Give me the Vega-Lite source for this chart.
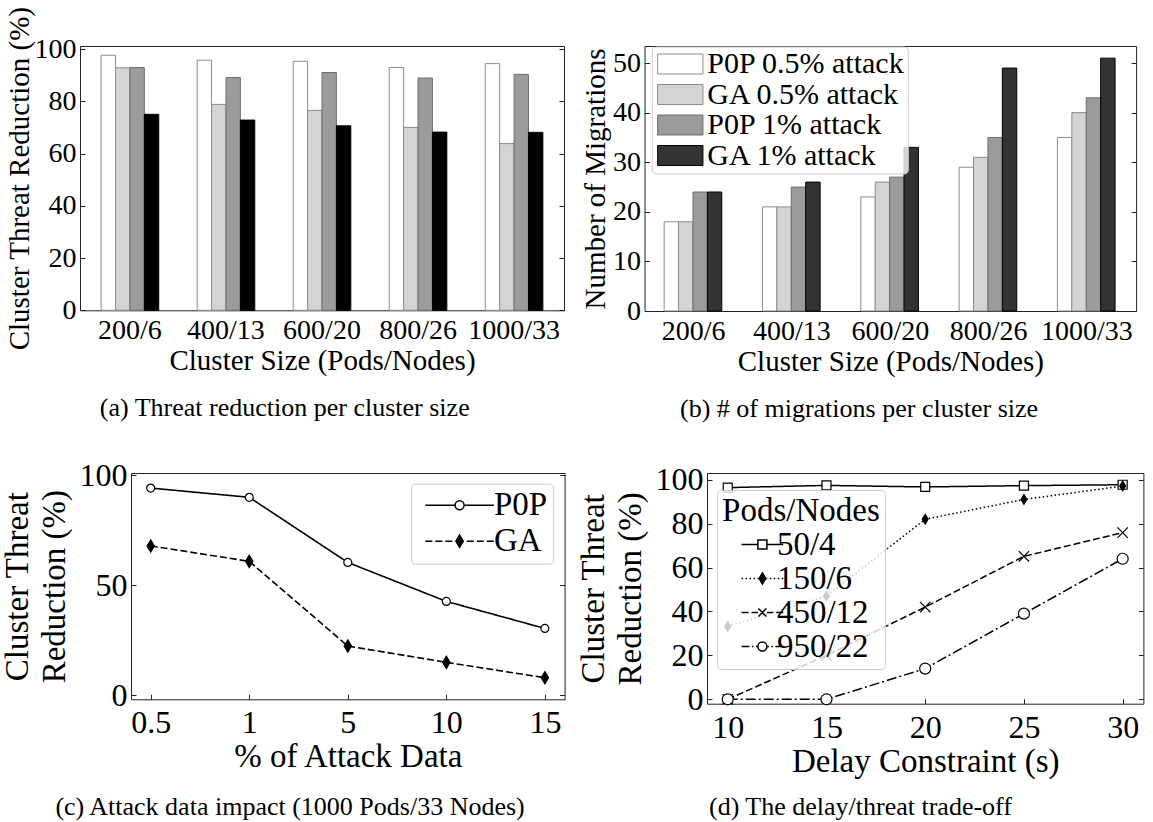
{
  "$schema": "https://vega.github.io/schema/vega-lite/v6.json",
  "background": "white",
  "padding": {"left": 0, "top": 5, "right": 0, "bottom": 0},
  "config": {
    "font": "Liberation Serif",
    "view": {"stroke": "#222222", "strokeWidth": 1},
    "axis": {
      "labelFont": "Liberation Serif", "titleFont": "Liberation Serif",
      "labelColor": "black", "titleColor": "black", "titleFontWeight": "normal",
      "grid": false, "domain": false, "tickColor": "#222222", "tickSize": -5, "tickWidth": 1
    },
    "legend": {
      "labelFont": "Liberation Serif", "titleFont": "Liberation Serif",
      "labelColor": "black", "titleColor": "black", "titleFontWeight": "normal", "labelLimit": 500
    },
    "title": {"font": "Liberation Serif", "fontWeight": "normal", "color": "black", "fontSize": 26}
  },
  "datasets": {
    "threat_by_size": [
      {"size": "200/6", "method": "P0P 0.5% attack", "reduction": 97.6},
      {"size": "200/6", "method": "GA 0.5% attack", "reduction": 92.8},
      {"size": "200/6", "method": "P0P 1% attack", "reduction": 92.9},
      {"size": "200/6", "method": "GA 1% attack", "reduction": 75.0},
      {"size": "400/13", "method": "P0P 0.5% attack", "reduction": 95.7},
      {"size": "400/13", "method": "GA 0.5% attack", "reduction": 78.8},
      {"size": "400/13", "method": "P0P 1% attack", "reduction": 89.1},
      {"size": "400/13", "method": "GA 1% attack", "reduction": 72.8},
      {"size": "600/20", "method": "P0P 0.5% attack", "reduction": 95.3},
      {"size": "600/20", "method": "GA 0.5% attack", "reduction": 76.5},
      {"size": "600/20", "method": "P0P 1% attack", "reduction": 91.0},
      {"size": "600/20", "method": "GA 1% attack", "reduction": 70.6},
      {"size": "800/26", "method": "P0P 0.5% attack", "reduction": 92.9},
      {"size": "800/26", "method": "GA 0.5% attack", "reduction": 70.0},
      {"size": "800/26", "method": "P0P 1% attack", "reduction": 88.9},
      {"size": "800/26", "method": "GA 1% attack", "reduction": 68.2},
      {"size": "1000/33", "method": "P0P 0.5% attack", "reduction": 94.4},
      {"size": "1000/33", "method": "GA 0.5% attack", "reduction": 63.8},
      {"size": "1000/33", "method": "P0P 1% attack", "reduction": 90.3},
      {"size": "1000/33", "method": "GA 1% attack", "reduction": 68.1}
    ],
    "migrations_by_size": [
      {"size": "200/6", "variant": "P0P 0.5% attack", "migrations": 18},
      {"size": "200/6", "variant": "GA 0.5% attack", "migrations": 18},
      {"size": "200/6", "variant": "P0P 1% attack", "migrations": 24},
      {"size": "200/6", "variant": "GA 1% attack", "migrations": 24},
      {"size": "400/13", "variant": "P0P 0.5% attack", "migrations": 21},
      {"size": "400/13", "variant": "GA 0.5% attack", "migrations": 21},
      {"size": "400/13", "variant": "P0P 1% attack", "migrations": 25},
      {"size": "400/13", "variant": "GA 1% attack", "migrations": 26},
      {"size": "600/20", "variant": "P0P 0.5% attack", "migrations": 23},
      {"size": "600/20", "variant": "GA 0.5% attack", "migrations": 26},
      {"size": "600/20", "variant": "P0P 1% attack", "migrations": 27},
      {"size": "600/20", "variant": "GA 1% attack", "migrations": 33},
      {"size": "800/26", "variant": "P0P 0.5% attack", "migrations": 29},
      {"size": "800/26", "variant": "GA 0.5% attack", "migrations": 31},
      {"size": "800/26", "variant": "P0P 1% attack", "migrations": 35},
      {"size": "800/26", "variant": "GA 1% attack", "migrations": 49},
      {"size": "1000/33", "variant": "P0P 0.5% attack", "migrations": 35},
      {"size": "1000/33", "variant": "GA 0.5% attack", "migrations": 40},
      {"size": "1000/33", "variant": "P0P 1% attack", "migrations": 43},
      {"size": "1000/33", "variant": "GA 1% attack", "migrations": 51}
    ],
    "attack_impact": [
      {"attack": 0.5, "algorithm": "P0P", "reduction": 94.2},
      {"attack": 1, "algorithm": "P0P", "reduction": 90.0},
      {"attack": 5, "algorithm": "P0P", "reduction": 60.4},
      {"attack": 10, "algorithm": "P0P", "reduction": 42.7},
      {"attack": 15, "algorithm": "P0P", "reduction": 30.4},
      {"attack": 0.5, "algorithm": "GA", "reduction": 67.9},
      {"attack": 1, "algorithm": "GA", "reduction": 60.9},
      {"attack": 5, "algorithm": "GA", "reduction": 22.4},
      {"attack": 10, "algorithm": "GA", "reduction": 15.0},
      {"attack": 15, "algorithm": "GA", "reduction": 8.0}
    ],
    "delay_tradeoff": [
      {"delay": 10, "cluster": "50/4", "reduction": 96.4},
      {"delay": 15, "cluster": "50/4", "reduction": 97.4},
      {"delay": 20, "cluster": "50/4", "reduction": 96.7},
      {"delay": 25, "cluster": "50/4", "reduction": 97.3},
      {"delay": 30, "cluster": "50/4", "reduction": 97.7},
      {"delay": 10, "cluster": "150/6", "reduction": 33.2},
      {"delay": 15, "cluster": "150/6", "reduction": 47.0},
      {"delay": 20, "cluster": "150/6", "reduction": 82.0},
      {"delay": 25, "cluster": "150/6", "reduction": 91.0},
      {"delay": 30, "cluster": "150/6", "reduction": 97.1},
      {"delay": 10, "cluster": "450/12", "reduction": 0},
      {"delay": 15, "cluster": "450/12", "reduction": 20},
      {"delay": 20, "cluster": "450/12", "reduction": 42},
      {"delay": 25, "cluster": "450/12", "reduction": 65.1},
      {"delay": 30, "cluster": "450/12", "reduction": 75.9},
      {"delay": 10, "cluster": "950/22", "reduction": 0},
      {"delay": 15, "cluster": "950/22", "reduction": 0},
      {"delay": 20, "cluster": "950/22", "reduction": 14},
      {"delay": 25, "cluster": "950/22", "reduction": 39},
      {"delay": 30, "cluster": "950/22", "reduction": 64}
    ]
  },
  "resolve": {
    "scale": {"x": "independent", "y": "independent", "fill": "independent", "stroke": "independent", "shape": "independent", "strokeDash": "independent", "size": "independent"},
    "legend": {"fill": "independent", "stroke": "independent", "shape": "independent", "strokeDash": "independent", "size": "independent"}
  },
  "spacing": 35,
  "vconcat": [
    {
      "bounds": "flush",
      "spacing": 80.5,
      "resolve": {
        "scale": {"x": "independent", "y": "independent", "fill": "independent", "stroke": "independent"},
        "legend": {"fill": "independent", "stroke": "independent"}
      },
      "hconcat": [
        {
          "width": 484,
          "height": 264.3,
          "data": {"name": "threat_by_size"},
          "title": {"text": "(a) Threat reduction per cluster size", "orient": "bottom", "frame": "bounds", "anchor": "middle", "offset": 20},
          "resolve": {"axis": {"y": "independent"}},
          "layer": [
            {
              "mark": {"type": "bar", "strokeWidth": 1},
              "encoding": {
                "x": {
                  "field": "size", "type": "nominal",
                  "sort": ["200/6", "400/13", "600/20", "800/26", "1000/33"],
                  "scale": {"paddingInner": 0.4, "paddingOuter": 0.22},
                  "axis": {"title": "Cluster Size (Pods/Nodes)", "labelAngle": 0, "labelFontSize": 28, "titleFontSize": 29, "labelPadding": 11, "titlePadding": 2}
                },
                "xOffset": {
                  "field": "method", "type": "nominal",
                  "scale": {"domain": ["P0P 0.5% attack", "GA 0.5% attack", "P0P 1% attack", "GA 1% attack"], "paddingInner": 0, "paddingOuter": 0}
                },
                "y": {
                  "field": "reduction", "type": "quantitative",
                  "scale": {"domain": [0, 101.15], "nice": false, "zero": true},
                  "axis": {"values": [0, 20, 40, 60, 80, 100], "title": "Cluster Threat Reduction (%)", "labelFontSize": 28, "titleFontSize": 29, "labelPadding": 9, "titlePadding": 0}
                },
                "fill": {
                  "field": "method", "type": "nominal",
                  "scale": {"domain": ["P0P 0.5% attack", "GA 0.5% attack", "P0P 1% attack", "GA 1% attack"], "range": ["#ffffff", "#d4d4d4", "#9b9b9b", "#000000"]},
                  "legend": null
                },
                "stroke": {
                  "field": "method", "type": "nominal",
                  "scale": {"domain": ["P0P 0.5% attack", "GA 0.5% attack", "P0P 1% attack", "GA 1% attack"], "range": ["#8c8c8c", "#8c8c8c", "#6e6e6e", "#000000"]},
                  "legend": null
                }
              }
            },
            {
              "data": {"values": []},
              "mark": {"type": "rule"},
              "encoding": {
                "y": {"field": "reduction", "type": "quantitative", "axis": {"orient": "right", "values": [0, 20, 40, 60, 80, 100], "labels": false, "title": null}}
              }
            }
          ]
        },
        {
          "width": 491.6,
          "height": 265,
          "data": {"name": "migrations_by_size"},
          "title": {"text": "(b) # of migrations per cluster size", "orient": "bottom", "frame": "bounds", "anchor": "middle", "offset": 20},
          "resolve": {"axis": {"y": "independent"}},
          "layer": [
            {
              "mark": {"type": "bar", "strokeWidth": 1},
              "encoding": {
                "x": {
                  "field": "size", "type": "nominal",
                  "sort": ["200/6", "400/13", "600/20", "800/26", "1000/33"],
                  "scale": {"paddingInner": 0.4, "paddingOuter": 0.2},
                  "axis": {"title": "Cluster Size (Pods/Nodes)", "labelAngle": 0, "labelFontSize": 28, "titleFontSize": 29, "labelPadding": 11, "titlePadding": 2}
                },
                "xOffset": {
                  "field": "variant", "type": "nominal",
                  "scale": {"domain": ["P0P 0.5% attack", "GA 0.5% attack", "P0P 1% attack", "GA 1% attack"], "paddingInner": 0, "paddingOuter": 0}
                },
                "y": {
                  "field": "migrations", "type": "quantitative",
                  "scale": {"domain": [0, 53.45], "nice": false},
                  "axis": {"values": [0, 10, 20, 30, 40, 50], "title": "Number of Migrations", "labelFontSize": 28, "titleFontSize": 29, "labelPadding": 9, "titlePadding": 2}
                },
                "fill": {
                  "field": "variant", "type": "nominal",
                  "scale": {"domain": ["P0P 0.5% attack", "GA 0.5% attack", "P0P 1% attack", "GA 1% attack"], "range": ["#ffffff", "#d4d4d4", "#9b9b9b", "#333333"]},
                  "legend": {
                    "orient": "none", "legendX": 7.3, "legendY": 0.5, "title": null,
                    "symbolType": "M-4.53,-2H4.53V2H-4.53Z", "symbolSize": 100, "symbolStrokeWidth": 1,
                    "symbolOffset": 11, "labelOffset": 12, "labelFontSize": 30, "rowPadding": 0.5,
                    "padding": 2.5, "fillColor": "rgba(255,255,255,0.8)", "strokeColor": "#cccccc", "cornerRadius": 4
                  }
                },
                "stroke": {
                  "field": "variant", "type": "nominal",
                  "scale": {"domain": ["P0P 0.5% attack", "GA 0.5% attack", "P0P 1% attack", "GA 1% attack"], "range": ["#8c8c8c", "#8c8c8c", "#6e6e6e", "#000000"]},
                  "legend": {
                    "orient": "none", "legendX": 7.3, "legendY": 0.5, "title": null,
                    "symbolType": "M-4.53,-2H4.53V2H-4.53Z", "symbolSize": 100, "symbolStrokeWidth": 1,
                    "symbolOffset": 11, "labelOffset": 12, "labelFontSize": 30, "rowPadding": 0.5,
                    "padding": 2.5, "fillColor": "rgba(255,255,255,0.8)", "strokeColor": "#cccccc", "cornerRadius": 4
                  }
                }
              }
            },
            {
              "data": {"values": []},
              "mark": {"type": "rule"},
              "encoding": {
                "y": {"field": "migrations", "type": "quantitative", "axis": {"orient": "right", "values": [0, 10, 20, 30, 40, 50], "labels": false, "title": null}}
              }
            }
          ]
        }
      ]
    },
    {
      "bounds": "flush",
      "spacing": 25,
      "resolve": {
        "scale": {"x": "independent", "y": "independent", "shape": "independent", "strokeDash": "independent", "fill": "independent", "size": "independent"},
        "legend": {"shape": "independent", "fill": "independent", "strokeDash": "independent", "size": "independent"}
      },
      "hconcat": [
        {
          "width": 25.3,
          "height": 10,
          "data": {"values": []},
          "mark": "point",
          "view": {"stroke": null}
        },
        {
          "width": 433.6,
          "height": 226.3,
          "data": {"name": "attack_impact"},
          "title": {"text": "(c) Attack data impact (1000 Pods/33 Nodes)", "orient": "bottom", "frame": "bounds", "anchor": "middle", "offset": 20},
          "resolve": {
            "scale": {"shape": "independent", "fill": "independent", "size": "independent"},
            "legend": {"shape": "independent", "fill": "independent", "size": "independent"},
            "axis": {"y": "independent"}
          },
          "layer": [
            {
              "mark": {"type": "line", "color": "black", "strokeWidth": 1.6},
              "encoding": {
                "x": {
                  "field": "attack", "type": "ordinal",
                  "scale": {"type": "point", "padding": 0.2},
                  "axis": {"title": "% of Attack Data", "labelAngle": 0, "labelFontSize": 32, "titleFontSize": 33, "labelPadding": 13.5, "titlePadding": 2}
                },
                "y": {
                  "field": "reduction", "type": "quantitative",
                  "scale": {"domain": [-1.8, 101.05], "nice": false, "zero": false},
                  "axis": {"values": [0, 50, 100], "title": ["Cluster Threat", "Reduction (%)"], "titleLineHeight": 37, "labelFontSize": 32, "titleFontSize": 33, "labelPadding": 9, "titlePadding": 8}
                },
                "strokeDash": {
                  "field": "algorithm", "type": "nominal",
                  "scale": {"domain": ["P0P", "GA"], "range": [[1, 0], [7, 3]]},
                  "legend": null
                }
              }
            },
            {
              "mark": {"type": "point", "filled": true, "stroke": "black", "strokeWidth": 1.2, "opacity": 1},
              "encoding": {
                "x": {"field": "attack", "type": "ordinal"},
                "y": {"field": "reduction", "type": "quantitative", "axis": null},
                "shape": {"field": "algorithm", "type": "nominal", "scale": {"domain": ["P0P", "GA"], "range": ["circle", "M0,-1L0.6,0L0,1L-0.6,0Z"]}, "legend": null},
                "fill": {"field": "algorithm", "type": "nominal", "scale": {"domain": ["P0P", "GA"], "range": ["#ffffff", "#000000"]}, "legend": null},
                "size": {"field": "algorithm", "type": "nominal", "scale": {"domain": ["P0P", "GA"], "range": [64, 151]}, "legend": null}
              }
            },
            {
              "mark": {"type": "point", "filled": true, "stroke": "black", "strokeWidth": 1.5, "opacity": 0, "size": 100},
              "encoding": {
                "x": {"field": "attack", "type": "ordinal"},
                "y": {"field": "reduction", "type": "quantitative", "axis": null},
                "shape": {
                  "field": "algorithm", "type": "nominal",
                  "scale": {"domain": ["P0P", "GA"], "range": [
                    "M-6.85,0H-0.9M0.9,0H6.85M0.9,0A0.9,0.9,0,1,1,-0.9,0A0.9,0.9,0,1,1,0.9,0Z",
                    "M-6.85,0H-5.45M-4.85,0H-3.45M-2.85,0H-1.45M1.45,0H2.85M3.45,0H4.85M5.45,0H6.85M0,-1.23L0.74,0L0,1.23L-0.74,0Z"
                  ]},
                  "legend": {
                    "orient": "none", "legendX": 280.1, "legendY": 10.7, "title": null,
                    "symbolSize": 100, "symbolStrokeWidth": 1.5, "symbolStrokeColor": "black", "symbolOpacity": 1,
                    "symbolOffset": 27, "labelOffset": 17.8, "labelFontSize": 33, "rowPadding": 2,
                    "padding": 5, "fillColor": "rgba(255,255,255,0.8)", "strokeColor": "#cccccc", "cornerRadius": 4,
                    "encode": {"symbols": {"update": {"opacity": {"value": 1}, "stroke": {"value": "black"}}}}
                  }
                },
                "fill": {
                  "field": "algorithm", "type": "nominal",
                  "scale": {"domain": ["P0P", "GA"], "range": ["#ffffff", "#000000"]},
                  "legend": {
                    "orient": "none", "legendX": 280.1, "legendY": 10.7, "title": null,
                    "symbolSize": 100, "symbolStrokeWidth": 1.5, "symbolStrokeColor": "black", "symbolOpacity": 1,
                    "symbolOffset": 27, "labelOffset": 17.8, "labelFontSize": 33, "rowPadding": 2,
                    "padding": 5, "fillColor": "rgba(255,255,255,0.8)", "strokeColor": "#cccccc", "cornerRadius": 4,
                    "encode": {"symbols": {"update": {"opacity": {"value": 1}, "stroke": {"value": "black"}}}}
                  }
                }
              }
            },
            {
              "data": {"values": []},
              "mark": {"type": "rule"},
              "encoding": {
                "y": {"field": "reduction", "type": "quantitative", "axis": {"orient": "right", "values": [0, 50, 100], "labels": false, "title": null}}
              }
            }
          ]
        },
        {
          "width": 91.1,
          "height": 10,
          "data": {"values": []},
          "mark": "point",
          "view": {"stroke": null}
        },
        {
          "width": 436.4,
          "height": 230.7,
          "data": {"name": "delay_tradeoff"},
          "title": {"text": "(d) The delay/threat trade-off", "orient": "bottom", "frame": "bounds", "anchor": "middle", "offset": 16},
          "resolve": {
            "scale": {"shape": "independent", "fill": "independent", "size": "independent"},
            "legend": {"shape": "independent", "fill": "independent", "size": "independent"},
            "axis": {"y": "independent"}
          },
          "layer": [
            {
              "mark": {"type": "line", "color": "black", "strokeWidth": 1.5},
              "encoding": {
                "x": {
                  "field": "delay", "type": "quantitative",
                  "scale": {"domain": [8.95, 31.05], "nice": false, "zero": false},
                  "axis": {"values": [10, 15, 20, 25, 30], "title": "Delay Constraint (s)", "labelFontSize": 32, "titleFontSize": 33, "labelPadding": 13.5, "titlePadding": 2}
                },
                "y": {
                  "field": "reduction", "type": "quantitative",
                  "scale": {"domain": [-2.0, 103.05], "nice": false, "zero": false},
                  "axis": {"values": [0, 20, 40, 60, 80, 100], "title": ["Cluster Threat", "Reduction (%)"], "titleLineHeight": 37, "labelFontSize": 32, "titleFontSize": 33, "labelPadding": 9, "titlePadding": 8}
                },
                "strokeDash": {
                  "field": "cluster", "type": "nominal",
                  "scale": {"domain": ["50/4", "150/6", "450/12", "950/22"], "range": [[1, 0], [1.5, 2.5], [7, 3], [10, 3, 2, 3]]},
                  "legend": null
                }
              }
            },
            {
              "mark": {"type": "point", "filled": true, "stroke": "black", "strokeWidth": 1.2, "opacity": 1},
              "encoding": {
                "x": {"field": "delay", "type": "quantitative"},
                "y": {"field": "reduction", "type": "quantitative", "axis": null},
                "shape": {"field": "cluster", "type": "nominal", "scale": {"domain": ["50/4", "150/6", "450/12", "950/22"], "range": ["square", "M0,-1L0.6,0L0,1L-0.6,0Z", "M-1,-1L1,1M-1,1L1,-1", "circle"]}, "legend": null},
                "fill": {"field": "cluster", "type": "nominal", "scale": {"domain": ["50/4", "150/6", "450/12", "950/22"], "range": ["#ffffff", "#000000", "#000000", "#ffffff"]}, "legend": null},
                "size": {"field": "cluster", "type": "nominal", "scale": {"domain": ["50/4", "150/6", "450/12", "950/22"], "range": [81, 121, 16, 64]}, "legend": null}
              }
            },
            {
              "mark": {"type": "point", "filled": true, "stroke": "black", "strokeWidth": 1.5, "opacity": 0, "size": 100},
              "encoding": {
                "x": {"field": "delay", "type": "quantitative"},
                "y": {"field": "reduction", "type": "quantitative", "axis": null},
                "shape": {
                  "field": "cluster", "type": "nominal",
                  "scale": {"domain": ["50/4", "150/6", "450/12", "950/22"], "range": [
                    "M-4.17,0H-0.9M0.9,0H4.17M-0.9,-0.9H0.9V0.9H-0.9Z",
                    "M-4.17,0H-3.87M-3.37,0H-3.07M-2.57,0H-2.27M-1.77,0H-1.47M-0.97,0H-0.67M0.67,0H0.97M1.47,0H1.77M2.27,0H2.57M3.07,0H3.37M3.87,0H4.17M0,-1.1L0.66,0L0,1.1L-0.66,0Z",
                    "M-4.17,0H-2.77M-2.17,0H-0.9M0.9,0H2.17M2.77,0H4.17M-0.8,-0.8L0.8,0.8M-0.8,0.8L0.8,-0.8",
                    "M-4.17,0H-2.6M-2.1,0H-1.8M-1.3,0H-0.9M0.9,0H1.3M1.8,0H2.1M2.6,0H4.17M0.9,0A0.9,0.9,0,1,1,-0.9,0A0.9,0.9,0,1,1,0.9,0Z"
                  ]},
                  "legend": {
                    "orient": "none", "legendX": 9.9, "legendY": 17, "title": "Pods/Nodes",
                    "titleFontSize": 33, "titleAnchor": "middle", "titlePadding": 0,
                    "symbolSize": 100, "symbolStrokeWidth": 1.5, "symbolStrokeColor": "black", "symbolOpacity": 1,
                    "symbolOffset": 13, "labelOffset": -2, "labelFontSize": 33, "rowPadding": 0,
                    "padding": 5, "fillColor": "rgba(255,255,255,0.8)", "strokeColor": "#cccccc", "cornerRadius": 4,
                    "encode": {"symbols": {"update": {"opacity": {"value": 1}, "stroke": {"value": "black"}}}}
                  }
                },
                "fill": {
                  "field": "cluster", "type": "nominal",
                  "scale": {"domain": ["50/4", "150/6", "450/12", "950/22"], "range": ["#ffffff", "#000000", "#000000", "#ffffff"]},
                  "legend": {
                    "orient": "none", "legendX": 9.9, "legendY": 17, "title": "Pods/Nodes",
                    "titleFontSize": 33, "titleAnchor": "middle", "titlePadding": 0,
                    "symbolSize": 100, "symbolStrokeWidth": 1.5, "symbolStrokeColor": "black", "symbolOpacity": 1,
                    "symbolOffset": 13, "labelOffset": -2, "labelFontSize": 33, "rowPadding": 0,
                    "padding": 5, "fillColor": "rgba(255,255,255,0.8)", "strokeColor": "#cccccc", "cornerRadius": 4,
                    "encode": {"symbols": {"update": {"opacity": {"value": 1}, "stroke": {"value": "black"}}}}
                  }
                }
              }
            },
            {
              "data": {"values": []},
              "mark": {"type": "rule"},
              "encoding": {
                "y": {"field": "reduction", "type": "quantitative", "axis": {"orient": "right", "values": [0, 20, 40, 60, 80, 100], "labels": false, "title": null}}
              }
            }
          ]
        }
      ]
    }
  ]
}
